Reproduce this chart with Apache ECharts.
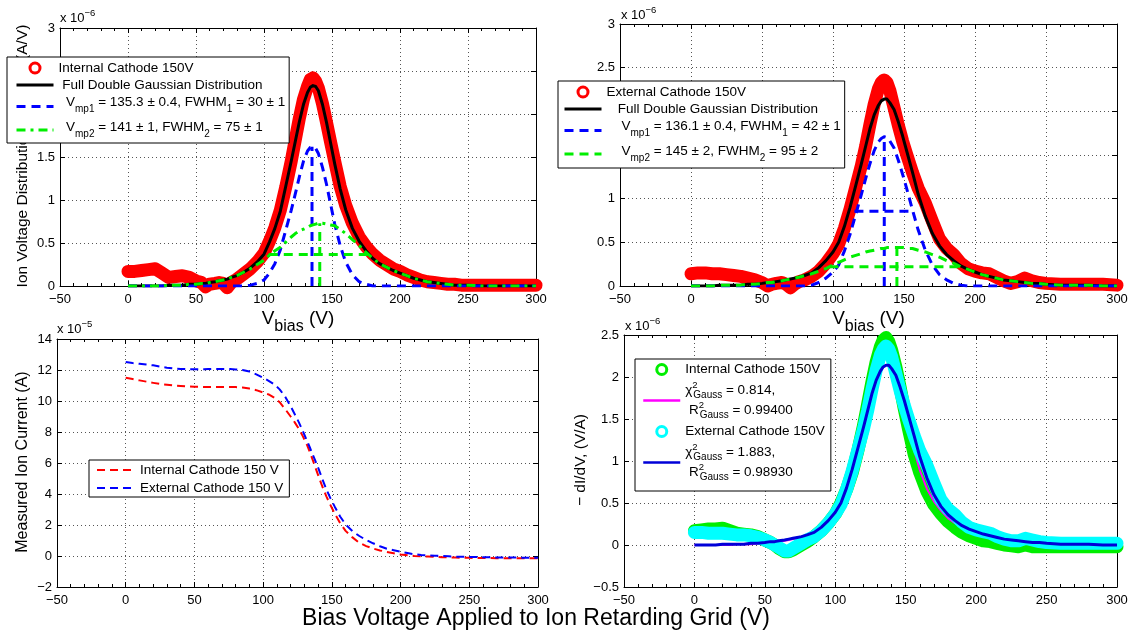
<!DOCTYPE html>
<html>
<head>
<meta charset="utf-8">
<title>Ion voltage distributions</title>
<script src="https://cdn.jsdelivr.net/npm/echarts@6.0.0/dist/echarts.min.js"></script>
<style>
  html, body { margin: 0; padding: 0; background: #ffffff; }
  #chart { width: 1139px; height: 639px; }
</style>
</head>
<body>
<div id="chart"></div>
<script>
// Bias voltage sample points (V), shared by every curve
const BIAS_V = [0, 5, 10, 15, 20, 25, 30, 35, 40, 45, 50,
  54, 57, 60, 64, 67, 70, 73, 76,
  80, 85, 90, 95, 100,
  104, 108, 112, 116, 120,
  123, 126, 129, 132,
  134, 136, 138, 140,
  143, 146, 149, 152,
  156, 160,
  165, 170, 175, 180, 185, 190, 195, 200, 205, 210, 215, 220, 225, 230, 235, 240, 245, 250,
  260, 270, 280, 290, 300];

// Internal cathode: measured distribution and double Gaussian fit (x 1e-6 A/V)
const INT_DIST = [0.17, 0.17, 0.18, 0.19, 0.20, 0.15, 0.10, 0.11, 0.12, 0.10, 0.06,
  0.04, -0.01, 0.02, 0.03, 0.04, 0.03, -0.02, 0.04,
  0.08, 0.14, 0.20, 0.28, 0.38,
  0.52, 0.68, 0.88, 1.15, 1.45,
  1.70, 1.95, 2.17, 2.32,
  2.40, 2.42, 2.38, 2.30,
  2.12, 1.90, 1.67, 1.45,
  1.16, 0.94,
  0.73, 0.57, 0.46, 0.37, 0.30, 0.25, 0.20, 0.17, 0.13, 0.10, 0.07, 0.05, 0.04, 0.03, 0.02, 0.02, 0.01, 0.01,
  0.01, 0.01, 0.01, 0.01, 0.01];
const INT_FIT = [0, 0, 0, 0, 0, 0, 0.01, 0.01, 0.01, 0.02, 0.02,
  0.03, 0.03, 0.04, 0.05, 0.06, 0.07, 0.08, 0.10,
  0.12, 0.16, 0.21, 0.28, 0.37,
  0.51, 0.67, 0.87, 1.16, 1.45,
  1.68, 1.91, 2.11, 2.25,
  2.31, 2.33, 2.32, 2.27,
  2.11, 1.90, 1.66, 1.42,
  1.13, 0.89,
  0.67, 0.52, 0.41, 0.32, 0.26, 0.22, 0.18, 0.15, 0.12, 0.09, 0.07, 0.05, 0.04, 0.03, 0.02, 0.01, 0.01, 0.01,
  0, 0, 0, 0, 0];
const INT_G1 = [0, 0, 0, 0, 0, 0, 0, 0, 0, 0, 0,
  0, 0, 0, 0, 0, 0, 0, 0,
  0, 0, 0.01, 0.03, 0.07,
  0.15, 0.26, 0.42, 0.65, 0.88,
  1.07, 1.27, 1.45, 1.57,
  1.61, 1.62, 1.60, 1.54,
  1.38, 1.18, 0.95, 0.72,
  0.47, 0.28,
  0.13, 0.05, 0.02, 0, 0, 0, 0, 0, 0, 0, 0, 0, 0, 0, 0, 0, 0, 0,
  0, 0, 0, 0, 0];
const INT_G2 = [0, 0, 0, 0, 0, 0, 0.01, 0.01, 0.01, 0.02, 0.02,
  0.03, 0.03, 0.04, 0.05, 0.06, 0.07, 0.08, 0.10,
  0.12, 0.16, 0.20, 0.25, 0.30,
  0.36, 0.41, 0.45, 0.51, 0.57,
  0.61, 0.64, 0.66, 0.68,
  0.70, 0.71, 0.72, 0.73,
  0.73, 0.72, 0.71, 0.70,
  0.66, 0.61,
  0.54, 0.47, 0.39, 0.32, 0.26, 0.22, 0.18, 0.15, 0.12, 0.09, 0.07, 0.05, 0.04, 0.03, 0.02, 0.01, 0.01, 0.01,
  0, 0, 0, 0, 0];
const INT_CENTERS = [135.3, 141];
const INT_FWHM = [30, 75];

// External cathode: measured distribution and double Gaussian fit (x 1e-6 A/V)
const EXT_DIST = [0.14, 0.15, 0.15, 0.14, 0.14, 0.13, 0.12, 0.11, 0.09, 0.07, 0.04,
  0.00, 0.02, 0.03, 0.04, 0.02, -0.02, 0.02, 0.05,
  0.07, 0.11, 0.17, 0.26, 0.37,
  0.48, 0.66, 0.88, 1.13, 1.38,
  1.60, 1.85, 2.08, 2.26,
  2.33, 2.36, 2.33, 2.24,
  2.04, 1.84, 1.66, 1.50,
  1.30, 1.12,
  0.95, 0.74, 0.54, 0.43, 0.36, 0.26, 0.20, 0.17, 0.15, 0.14, 0.10, 0.06, 0.03, 0.05, 0.09, 0.06, 0.04, 0.03,
  0.02, 0.02, 0.02, 0.02, 0.01];
const EXT_FIT = [0, 0, 0, 0, 0.01, 0.01, 0.01, 0.01, 0.02, 0.02, 0.03,
  0.04, 0.04, 0.05, 0.06, 0.07, 0.08, 0.09, 0.10,
  0.12, 0.15, 0.21, 0.29, 0.39,
  0.50, 0.68, 0.90, 1.15, 1.40,
  1.60, 1.80, 1.96, 2.07,
  2.12, 2.14, 2.14, 2.10,
  2.02, 1.88, 1.72, 1.54,
  1.30, 1.05,
  0.80, 0.60, 0.46, 0.36, 0.29, 0.23, 0.19, 0.16, 0.13, 0.11, 0.09, 0.07, 0.06, 0.05, 0.04, 0.03, 0.03, 0.02,
  0.01, 0.01, 0.01, 0, 0];
const EXT_G1 = [0, 0, 0, 0, 0, 0, 0, 0, 0, 0, 0,
  0, 0, 0, 0, 0, 0, 0, 0,
  0, 0.01, 0.04, 0.09, 0.16,
  0.24, 0.40, 0.59, 0.82, 1.05,
  1.23, 1.40, 1.55, 1.65,
  1.69, 1.71, 1.70, 1.66,
  1.58, 1.44, 1.28, 1.11,
  0.87, 0.64,
  0.41, 0.24, 0.13, 0.07, 0.03, 0.01, 0, 0, 0, 0, 0, 0, 0, 0, 0, 0, 0, 0,
  0, 0, 0, 0, 0];
const EXT_G2 = [0, 0, 0, 0, 0.01, 0.01, 0.01, 0.01, 0.02, 0.02, 0.03,
  0.04, 0.04, 0.05, 0.06, 0.07, 0.08, 0.09, 0.10,
  0.12, 0.14, 0.17, 0.20, 0.24,
  0.27, 0.30, 0.33, 0.35, 0.37,
  0.39, 0.40, 0.41, 0.42,
  0.43, 0.43, 0.44, 0.44,
  0.44, 0.44, 0.44, 0.43,
  0.43, 0.41,
  0.39, 0.36, 0.33, 0.29, 0.26, 0.22, 0.19, 0.16, 0.13, 0.11, 0.09, 0.07, 0.06, 0.05, 0.04, 0.03, 0.03, 0.02,
  0.01, 0.01, 0.01, 0, 0];
const EXT_CENTERS = [136.1, 145];
const EXT_FWHM = [42, 95];

// Measured ion current (x 1e-5 A)
const INT_CURRENT = [11.50, 11.42, 11.33, 11.25, 11.17, 11.10, 11.05, 11.00, 10.97, 10.94, 10.92,
  10.91, 10.90, 10.90, 10.90, 10.90, 10.90, 10.90, 10.90,
  10.90, 10.87, 10.80, 10.70, 10.55,
  10.42, 10.22, 9.92, 9.48, 9.00,
  8.62, 8.20, 7.70, 7.15,
  6.70, 6.22, 5.72, 5.22,
  4.50, 3.85, 3.28, 2.75,
  2.12, 1.62,
  1.20, 0.85, 0.64, 0.48, 0.36, 0.26, 0.18, 0.10, 0.05, 0.00, -0.02, -0.04, -0.06, -0.08, -0.09, -0.10, -0.11, -0.12,
  -0.13, -0.14, -0.14, -0.15, -0.15];
const EXT_CURRENT = [12.52, 12.45, 12.40, 12.35, 12.30, 12.22, 12.15, 12.10, 12.07, 12.05, 12.05,
  12.05, 12.05, 12.06, 12.07, 12.07, 12.07, 12.07, 12.06,
  12.04, 12.00, 11.90, 11.72, 11.50,
  11.30, 11.08, 10.75, 10.28, 9.66,
  9.15, 8.62, 8.03, 7.42,
  7.00, 6.56, 6.13, 5.70,
  4.98, 4.30, 3.72, 3.20,
  2.55, 2.04,
  1.60, 1.29, 1.03, 0.82, 0.63, 0.47, 0.37, 0.28, 0.19, 0.11, 0.07, 0.04, 0.02, 0.00, -0.02, -0.04, -0.05, -0.06,
  -0.08, -0.09, -0.10, -0.11, -0.12];

// -dI/dV (x 1e-6 V/A)
const INT_DERIV = [0.17, 0.18, 0.19, 0.19, 0.20, 0.17, 0.14, 0.13, 0.12, 0.10, 0.06,
  0.03, 0.00, -0.04, -0.08, -0.08, -0.06, -0.03, 0.00,
  0.04, 0.10, 0.17, 0.26, 0.37,
  0.50, 0.66, 0.86, 1.12, 1.42,
  1.68, 1.94, 2.18, 2.36,
  2.44, 2.47, 2.42, 2.32,
  2.12, 1.88, 1.62, 1.38,
  1.08, 0.86,
  0.64, 0.48, 0.37, 0.28, 0.21, 0.15, 0.11, 0.08, 0.05, 0.04, 0.02, 0.00, -0.01, -0.02, 0.00, -0.02, -0.02, -0.02,
  -0.02, -0.02, -0.02, -0.02, -0.02];
const EXT_DERIV = [0.15, 0.15, 0.14, 0.14, 0.14, 0.13, 0.12, 0.12, 0.11, 0.09, 0.06,
  0.03, 0.00, -0.03, -0.07, -0.07, -0.04, -0.01, 0.02,
  0.06, 0.10, 0.17, 0.26, 0.37,
  0.48, 0.66, 0.88, 1.13, 1.38,
  1.60, 1.85, 2.08, 2.26,
  2.33, 2.37, 2.33, 2.24,
  2.04, 1.84, 1.66, 1.50,
  1.30, 1.12,
  0.95, 0.74, 0.54, 0.43, 0.36, 0.27, 0.21, 0.18, 0.16, 0.14, 0.10, 0.07, 0.05, 0.05, 0.08, 0.06, 0.04, 0.03,
  0.02, 0.02, 0.02, 0.02, 0.02];

// Axis ranges: [min, max, step]
const X_RANGE = [-50, 300, 50];
const DIST_Y_RANGE = [0, 3, 0.5];
const CURRENT_Y_RANGE = [-2, 14, 2];
const DERIV_Y_RANGE = [-0.5, 2.5, 0.5];

const FONT = '"Liberation Sans", Arial, Helvetica, sans-serif';
const RED = '#ff0000', BLUE = '#0000ff', GREEN = '#00ee00', BLACK = '#000000';
const MAGENTA = '#ff00ff', CYAN = '#00ffff', NAVY = '#0000d8';

const LEGEND_TEXT = {
  intDist: '{n|Internal Cathode 150V}',
  intFit: '{n| Full Double Gaussian Distribution}',
  intG1: '{m|  V}{s3|mp1}{m| = 135.3 \u00b1 0.4, FWHM}{s3|1}{m| = 30 \u00b1 1}',
  intG2: '{m|  V}{s|mp2}{m| = 141 \u00b1 1, FWHM}{s|2}{m| = 75 \u00b1 1}',
  extDist: '{n|External Cathode 150V}',
  extFit: '{n|   Full Double Gaussian Distribution}',
  extG1: '{m|    V}{s3|mp1}{m| = 136.1 \u00b1 0.4, FWHM}{s3|1}{m| = 42 \u00b1 1}',
  extG2: '{m|    V}{s|mp2}{m| = 145 \u00b1 2, FWHM}{s|2}{m| = 95 \u00b1 2}',
  intI: '{n|Internal Cathode 150 V}',
  extI: '{n|External Cathode 150 V}',
  intDeriv: '{k|Internal Cathode 150V}',
  intDerivFit: '{b|\u03c7}{p|2}{q|Gauss}{b| = 0.814,}\n{b| R}{p|2}{q|Gauss}{b| = 0.99400}',
  extDeriv: '{k|External Cathode 150V}',
  extDerivFit: '{b|\u03c7}{p|2}{q|Gauss}{b| = 1.883,}\n{b| R}{p|2}{q|Gauss}{b| = 0.98930}'
};

const RICH = {
  n: { fontFamily: FONT, fontSize: 13.5, lineHeight: 16, color: '#000' },
  k: { fontFamily: FONT, fontSize: 13.5, lineHeight: 17, color: '#000' },
  m: { fontFamily: FONT, fontSize: 13.5, lineHeight: 16, verticalAlign: 'top', color: '#000' },
  s: { fontFamily: FONT, fontSize: 10, lineHeight: 20, verticalAlign: 'top', padding: [9, 0, 0, 0], color: '#000' },
  s3: { fontFamily: FONT, fontSize: 10, lineHeight: 23, verticalAlign: 'top', padding: [9, 0, 3, 0], color: '#000' },
  b: { fontFamily: FONT, fontSize: 13.5, lineHeight: 20, color: '#000' },
  p: { fontFamily: FONT, fontSize: 9.5, lineHeight: 20, verticalAlign: 'top', width: 1, color: '#000' },
  q: { fontFamily: FONT, fontSize: 10, lineHeight: 20, verticalAlign: 'bottom', color: '#000' }
};

const pts = ys => BIAS_V.map((v, i) => [v, ys[i]]);
const peak = ys => Math.max.apply(null, ys);
const vMark = (c, ys) => [[c, 0], [c, peak(ys)]];
const hMark = (c, w, ys) => [[c - w / 2, peak(ys) / 2], [c + w / 2, peak(ys) / 2]];
const minusFmt = v => String(v).replace('-', '\u2212');

// Grid boxes: TL, TR, BL, BR
const GRIDS = [
  { left: 60, top: 28, width: 476, height: 258 },
  { left: 620, top: 24, width: 497, height: 262 },
  { left: 57, top: 339, width: 481, height: 248 },
  { left: 624, top: 335, width: 493, height: 252 }
];
const Y_RANGES = [DIST_Y_RANGE, DIST_Y_RANGE, CURRENT_Y_RANGE, DERIV_Y_RANGE];

const tickStyle = { color: '#000', width: 1 };
const xAxes = [], yAxes = [];
GRIDS.forEach((g, gi) => {
  ['bottom', 'top'].forEach(pos => {
    const main = pos === 'bottom';
    xAxes.push({
      type: 'value', gridIndex: gi, position: pos,
      min: X_RANGE[0], max: X_RANGE[1], interval: X_RANGE[2],
      axisLine: { show: true, onZero: false, lineStyle: tickStyle },
      axisTick: { show: true, inside: true, length: 5, lineStyle: tickStyle },
      minorTick: { show: true, splitNumber: 5, length: 3, lineStyle: tickStyle },
      axisLabel: { show: main, color: '#000', fontFamily: FONT, fontSize: 13, margin: 7,
        showMinLabel: true, showMaxLabel: true, formatter: minusFmt },
      splitLine: { show: main, lineStyle: { color: '#555', width: 1, type: [1, 3] } },
      minorSplitLine: { show: false }
    });
  });
  const yr = Y_RANGES[gi];
  ['left', 'right'].forEach(pos => {
    const main = pos === 'left';
    yAxes.push({
      type: 'value', gridIndex: gi, position: pos,
      min: yr[0], max: yr[1], interval: yr[2],
      axisLine: { show: true, onZero: false, lineStyle: tickStyle },
      axisTick: { show: true, inside: true, length: 5, lineStyle: tickStyle },
      axisLabel: { show: main, color: '#000', fontFamily: FONT, fontSize: 13, margin: 5,
        showMinLabel: true, showMaxLabel: true, formatter: minusFmt },
      splitLine: { show: main, lineStyle: { color: '#555', width: 1, type: [1, 3] } }
    });
  });
});

function line(name, gi, data, color, width, dash, extra) {
  return Object.assign({
    type: 'line', name: name, xAxisIndex: gi * 2, yAxisIndex: gi * 2,
    data: data, symbol: 'none', showSymbol: false, smooth: false,
    silent: true, animation: false, emphasis: { disabled: true },
    itemStyle: { color: color },
    lineStyle: { color: color, width: width, type: dash || 'solid', cap: 'butt', join: 'round' }
  }, extra || {});
}
// Thick band used for densely sampled measurements
function band(name, gi, ys, color) {
  const s = line(name, gi, pts(ys), color, 13, 'solid', { clip: false });
  s.lineStyle.cap = 'round';
  return s;
}

const DASH = [9, 6];
const DASH_DOT = [9, 5, 3, 5];
const DASH_THIN = [8, 5];

const series = [
  // top left: internal cathode distribution
  band('intDist', 0, INT_DIST, RED),
  line('intFit', 0, pts(INT_FIT), BLACK, 3),
  line('intG1', 0, pts(INT_G1), BLUE, 3, DASH),
  line('intG1Peak', 0, vMark(INT_CENTERS[0], INT_G1), BLUE, 3, DASH),
  line('intG2', 0, pts(INT_G2), GREEN, 3, DASH_DOT),
  line('intG2Peak', 0, vMark(INT_CENTERS[1], INT_G2), GREEN, 3, DASH),
  line('intG2Width', 0, hMark(INT_CENTERS[1], INT_FWHM[1], INT_G2), GREEN, 3, DASH),

  // top right: external cathode distribution
  band('extDist', 1, EXT_DIST, RED),
  line('extFit', 1, pts(EXT_FIT), BLACK, 3),
  line('extG1', 1, pts(EXT_G1), BLUE, 3, DASH),
  line('extG1Peak', 1, vMark(EXT_CENTERS[0], EXT_G1), BLUE, 3, DASH),
  line('extG1Width', 1, hMark(EXT_CENTERS[0], EXT_FWHM[0], EXT_G1), BLUE, 3, DASH),
  line('extG2', 1, pts(EXT_G2), GREEN, 3, DASH),
  line('extG2Peak', 1, vMark(EXT_CENTERS[1], EXT_G2), GREEN, 3, DASH),
  line('extG2Width', 1, hMark(EXT_CENTERS[1], EXT_FWHM[1], EXT_G2), GREEN, 3, DASH),

  // bottom left: I-V sweeps
  line('intI', 2, pts(INT_CURRENT), RED, 2, DASH_THIN),
  line('extI', 2, pts(EXT_CURRENT), BLUE, 2, DASH_THIN),

  // bottom right: -dI/dV with Gaussian fits
  band('intDeriv', 3, INT_DERIV, GREEN),
  line('intDerivFit', 3, pts(INT_FIT), MAGENTA, 2),
  band('extDeriv', 3, EXT_DERIV, CYAN),
  line('extDerivFit', 3, pts(EXT_FIT), NAVY, 3)
];

// Open-circle legend marker for measured data; line items show only their stroke
const circleItem = (name, color) => ({
  name: name, icon: 'circle',
  itemStyle: { color: '#ffffff', borderColor: color, borderWidth: 3, opacity: 1 }
});
const legendBase = {
  orient: 'vertical', align: 'left', selectedMode: false,
  backgroundColor: '#ffffff', borderColor: '#000', borderWidth: 1, borderRadius: 0,
  itemWidth: 37, itemHeight: 10, itemGap: 3,
  itemStyle: { opacity: 0 },
  textStyle: { color: '#000', fontFamily: FONT, fontSize: 13.5, rich: RICH },
  formatter: name => LEGEND_TEXT[name],
  lineStyle: { width: 3, opacity: 1 }
};
const legends = [
  Object.assign({}, legendBase, { left: 7, top: 57, padding: [4, 4, 4, 8],
    data: [circleItem('intDist', RED), 'intFit', 'intG1', 'intG2'] }),
  Object.assign({}, legendBase, { left: 558, top: 81, padding: [4, 4, 5, 5],
    data: [circleItem('extDist', RED), 'extFit', 'extG1', 'extG2'] }),
  Object.assign({}, legendBase, { left: 89, top: 460, padding: [3, 6, 2, 7], itemGap: 4, itemWidth: 38,
    lineStyle: { width: 2, opacity: 1 }, data: ['intI', 'extI'] }),
  Object.assign({}, legendBase, { left: 635, top: 359, padding: [3.5, 6, 8.5, 7], itemGap: 4,
    lineStyle: { width: 2.5, opacity: 1 },
    data: [circleItem('intDeriv', GREEN), 'intDerivFit', circleItem('extDeriv', CYAN), 'extDerivFit'] })
];

// Exponent markers, axis titles and the shared x title
function exponent(x, y, power) {
  return { type: 'text', z: 1, x: x, y: y, silent: true,
    style: { text: 'x 10{e|' + power + '}', fontFamily: FONT, fontSize: 13, fill: '#000',
      align: 'left', verticalAlign: 'middle', lineHeight: 20,
      rich: { e: { fontFamily: FONT, fontSize: 9.5, lineHeight: 20, verticalAlign: 'top', fill: '#000' } } } };
}
function yTitle(x, y, text, size) {
  return { type: 'text', z: 1, x: x, y: y, rotation: Math.PI / 2, silent: true,
    style: { text: text, fontFamily: FONT, fontSize: size, fill: '#000', align: 'center', verticalAlign: 'middle' } };
}
function vbiasTitle(x, y) {
  return { type: 'text', z: 1, x: x, y: y, silent: true,
    style: { text: 'V{b|bias} (V)', fontFamily: FONT, fontSize: 19, fill: '#000',
      align: 'center', verticalAlign: 'middle', lineHeight: 32,
      rich: { b: { fontFamily: FONT, fontSize: 16, lineHeight: 32, verticalAlign: 'bottom', fill: '#000' } } } };
}

const graphics = [
  exponent(60, 18, '\u22126'),
  exponent(621, 15, '\u22126'),
  exponent(57, 329, '\u22125'),
  exponent(625, 326, '\u22126'),
  yTitle(22.5, 156, 'Ion Voltage Distribution Function (A/V)', 15.5),
  yTitle(23, 462, 'Measured Ion Current (A)', 16),
  yTitle(581, 460, '\u2212 dI/dV, (V/A)', 15.5),
  vbiasTitle(298, 318.5),
  vbiasTitle(868.5, 318.5),
  { type: 'text', z: 1, x: 536, y: 619, silent: true,
    style: { text: 'Bias Voltage Applied to Ion Retarding Grid (V)', fontFamily: FONT, fontSize: 23,
      fill: '#000', align: 'center', verticalAlign: 'middle' } }
];

const chart = echarts.init(document.getElementById('chart'), null, { renderer: 'canvas' });
chart.setOption({
  backgroundColor: '#ffffff',
  animation: false,
  textStyle: { fontFamily: FONT },
  grid: GRIDS,
  xAxis: xAxes,
  yAxis: yAxes,
  legend: legends,
  series: series,
  graphic: { elements: graphics }
});
</script>
</body>
</html>
